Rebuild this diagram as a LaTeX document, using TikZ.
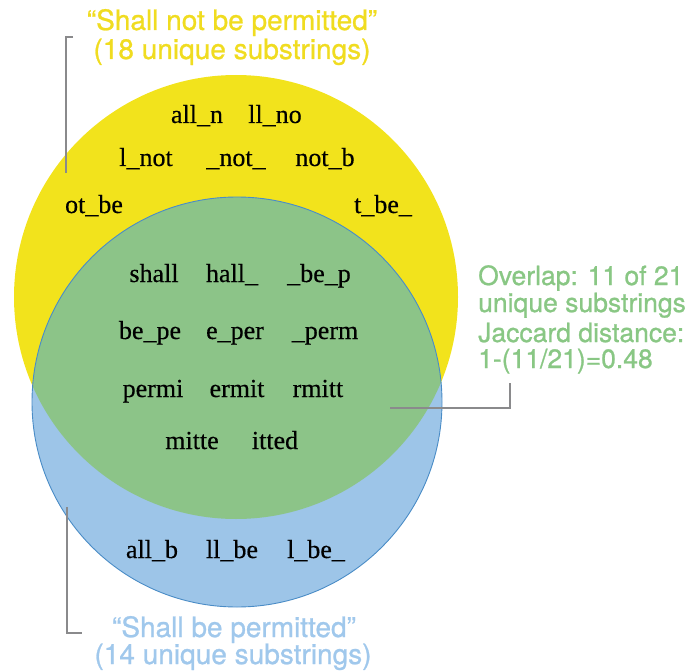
\documentclass[tikz,border=0pt]{standalone}
\usepackage{fontspec}
\setmainfont{Liberation Serif}[FakeBold=0.4]
\newfontfamily\labelfont{TeX Gyre Heros}[FakeBold=0.9]

\definecolor{vennyellow}{RGB}{242,227,28}
\definecolor{vennblue}{RGB}{157,197,232}
\definecolor{vennedge}{RGB}{74,140,198}
\definecolor{venngreen}{RGB}{140,196,136}
\definecolor{labelyellow}{RGB}{240,220,32}
\definecolor{labelgreen}{RGB}{137,199,132}
\definecolor{labelblue}{RGB}{160,200,236}
\definecolor{leadergray}{RGB}{138,138,140}

\tikzset{
  gram/.style={font=\fontsize{26}{26}\selectfont, inner sep=0pt, anchor=base},
  caption/.style={font=\labelfont\fontsize{28}{28}\selectfont, inner sep=0pt, anchor=base},
  sidenote/.style={font=\labelfont\fontsize{26.5}{26.5}\selectfont, labelgreen, inner sep=0pt, anchor=base west},
  leader/.style={leadergray, line width=2.5pt},
}

\begin{document}
\begin{tikzpicture}[x=1pt,y=-1pt]
    \useasboundingbox (0,0) rectangle (690,671);
    % yellow = "shall not be permitted", blue = "shall be permitted"
    \fill[vennyellow] (236,297) circle (222pt);
    \fill[vennblue] (237,402) circle (205pt);
    \begin{scope}
        \clip (237,402) circle (205pt);
        \fill[venngreen] (236,297) circle (222pt);
    \end{scope}
    \draw[vennedge, line width=0.9pt] (237,402) circle (205pt);
    % substrings only in the yellow set
    \node[gram] (yAlln) at (197,123) {all\_n};
    \node[gram] (yLlno) at (275,123) {ll\_no};
    \node[gram] (yLnot) at (146,166) {l\_not};
    \node[gram] (yNot)  at (236,166) {\_not\_};
    \node[gram] (yNotb) at (325,166) {not\_b};
    \node[gram] (yOtbe) at (94,213) {ot\_be};
    \node[gram] (yTbe)  at (383,213) {t\_be\_};
    % shared substrings
    \node[gram] (gShall) at (154,282) {shall};
    \node[gram] (gHall)  at (232,282) {hall\_};
    \node[gram] (gBep)   at (319,282) {\_be\_p};
    \node[gram] (gBepe)  at (150,339) {be\_pe};
    \node[gram] (gEper)  at (235,339) {e\_per};
    \node[gram] (gPerm)  at (325,339) {\_perm};
    \node[gram] (gPermi) at (153,397) {permi};
    \node[gram] (gErmit) at (237,397) {ermit};
    \node[gram] (gRmitt) at (318,397) {rmitt};
    \node[gram] (gMitte) at (192,449) {mitte};
    \node[gram] (gItted) at (275,449) {itted};
    % substrings only in the blue set
    \node[gram] (bAllb) at (152,558) {all\_b};
    \node[gram] (bLlbe) at (232,558) {ll\_be};
    \node[gram] (bLbe)  at (316,558) {l\_be\_};
    % captions
    \node[caption, labelyellow] (topA) at (232,30) {“Shall not be permitted”};
    \node[caption, labelyellow] (topB) at (232,59) {(18 unique substrings)};
    \node[caption, labelblue] (botA) at (234,637) {“Shall be permitted”};
    \node[caption, labelblue] (botB) at (233,664) {(14 unique substrings)};
    \node[sidenote] (overA) at (478,285) {Overlap: 11 of 21};
    \node[sidenote] (overB) at (478,312) {unique substrings};
    \node[sidenote] (jacA)  at (478,342) {Jaccard distance:};
    \node[sidenote] (jacB)  at (478,368) {1-(11/21)=0.48};
    % leader brackets
    \coordinate (topHook) at (73,37);
    \coordinate (topEnd) at (66,173);
    \coordinate (botStart) at (67,507);
    \coordinate (botHook) at (82,633);
    \coordinate (midStart) at (390,408);
    \coordinate (midHook) at (510,383);
    \draw[leader] (topHook) -| (topEnd);
    \draw[leader] (botStart) |- (botHook);
    \draw[leader] (midStart) -| (midHook);
\end{tikzpicture}
\end{document}
